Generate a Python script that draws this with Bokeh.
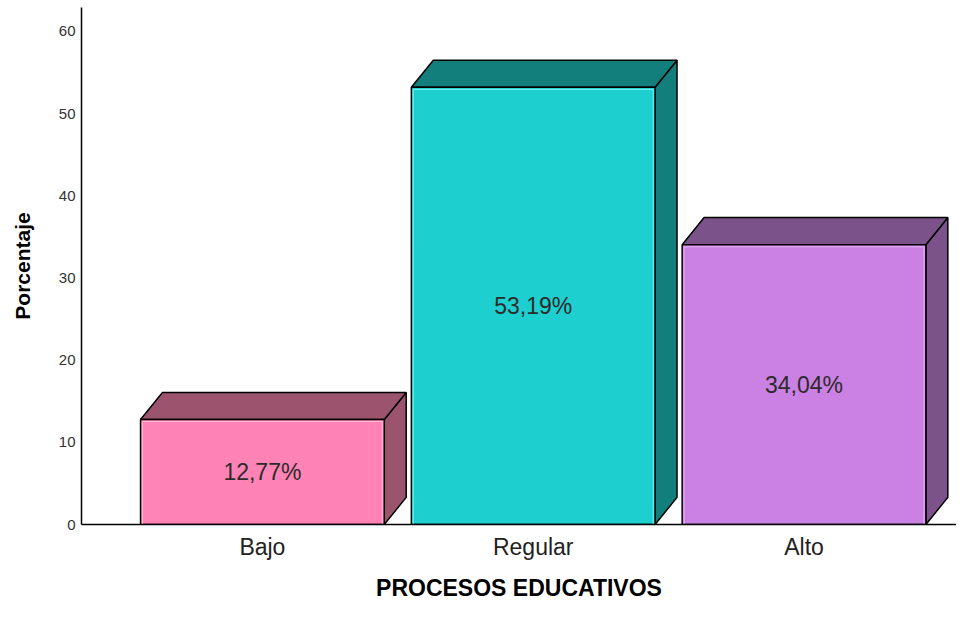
from bokeh.plotting import figure
from bokeh.models import FixedTicker, ColumnDataSource, Range1d, Text
from bokeh.embed import file_html
from bokeh.resources import INLINE
from bokeh.core.properties import value

# ---- data ----
categories = ["Bajo", "Regular", "Alto"]
percentages = [12.77, 53.19, 34.04]
value_labels = ["12,77%", "53,19%", "34,04%"]
y_ticks = [0, 10, 20, 30, 40, 50, 60]
x_title = "PROCESOS EDUCATIVOS"
y_title = "Porcentaje"

# ---- style ----
front_colors = ["#FF83B5", "#1DCFCF", "#CB80E3"]
shade_colors = ["#9C546E", "#127F7C", "#7B528A"]
light_colors = ["#FFBBD6", "#7CF2F2", "#E7B3F6"]
FONT = "Liberation Sans"
BAR_W = 0.9
DX = 0.081   # 3D depth, x (category units)
DY = 3.3     # 3D depth, y (percent units)
IN_X = 0.007  # inner highlight inset (x units)
IN_Y = 0.25   # inner highlight inset (y units)

W, H = 956, 603
p = figure(width=W, height=H, output_backend="svg", toolbar_location=None,
           x_range=Range1d(-0.668, 2.563), y_range=Range1d(0, 62.9),
           min_border=0, min_border_left=81, min_border_top=7,
           min_border_bottom=77, min_border_right=0)
p.outline_line_color = None
p.grid.visible = False
p.background_fill_color = "white"

xpos = list(range(len(categories)))
left = [x - BAR_W / 2 for x in xpos]
right = [x + BAR_W / 2 for x in xpos]

# side faces
side_xs = [[r, r + DX, r + DX, r] for r in right]
side_ys = [[0, DY, v + DY, v] for v in percentages]
p.patches(side_xs, side_ys, fill_color=shade_colors, line_color="black", line_width=1.5)
# top faces
top_xs = [[l, l + DX, r + DX, r] for l, r in zip(left, right)]
top_ys = [[v, v + DY, v + DY, v] for v in percentages]
p.patches(top_xs, top_ys, fill_color=shade_colors, line_color="black", line_width=1.5)
# front faces
src = ColumnDataSource(dict(left=left, right=right, top=percentages,
                            bottom=[0] * len(percentages), color=front_colors,
                            light=light_colors,
                            ileft=[l + IN_X for l in left],
                            iright=[r - IN_X for r in right],
                            itop=[v - IN_Y for v in percentages],
                            x=xpos, ymid=[v / 2 for v in percentages],
                            lab=value_labels))
p.quad(left="left", right="right", top="top", bottom="bottom", source=src,
       fill_color="color", line_color="black", line_width=1.5)
# thin light highlight just inside the front face edge
p.quad(left="ileft", right="iright", top="itop", bottom="bottom", source=src,
       fill_color=None, line_color="light", line_width=1)

text_kw = dict(x="x", y="ymid", text="lab", source=src, text_align="center",
               text_baseline="middle", text_font=value(FONT),
               text_font_size="23px", text_color="#2b2b2b")
if "outline_color" in Text.properties():
    text_kw["outline_color"] = "#f4f4f4"
p.text(**text_kw)

# axes
p.yaxis.ticker = FixedTicker(ticks=y_ticks)
p.xaxis.ticker = FixedTicker(ticks=xpos)
p.xaxis.major_label_overrides = {i: c for i, c in enumerate(categories)}
for ax in (p.xaxis, p.yaxis):
    ax.major_tick_line_color = None
    ax.minor_tick_line_color = None
    ax.major_tick_out = 0
    ax.major_tick_in = 0
    ax.minor_tick_out = 0
    ax.minor_tick_in = 0
    ax.axis_line_color = "black"
    ax.axis_line_width = 1.5
    ax.major_label_text_font = FONT
    ax.axis_label_text_font = FONT
    ax.axis_label_text_font_style = "bold"
    ax.axis_label_text_color = "black"

p.yaxis.major_label_text_font_size = "15px"
p.yaxis.major_label_text_color = "#333333"
p.yaxis.major_label_standoff = 6
p.yaxis.axis_label = y_title
p.yaxis.axis_label_text_font_size = "21px"
p.yaxis.axis_label_standoff = 22

p.xaxis.major_label_text_font_size = "23px"
p.xaxis.major_label_text_color = "#222222"
p.xaxis.major_label_standoff = 9
p.xaxis.axis_label = x_title
p.xaxis.axis_label_text_font_size = "23px"
p.xaxis.axis_label_standoff = 12

open("out.html", "w").write(file_html(p, INLINE))
